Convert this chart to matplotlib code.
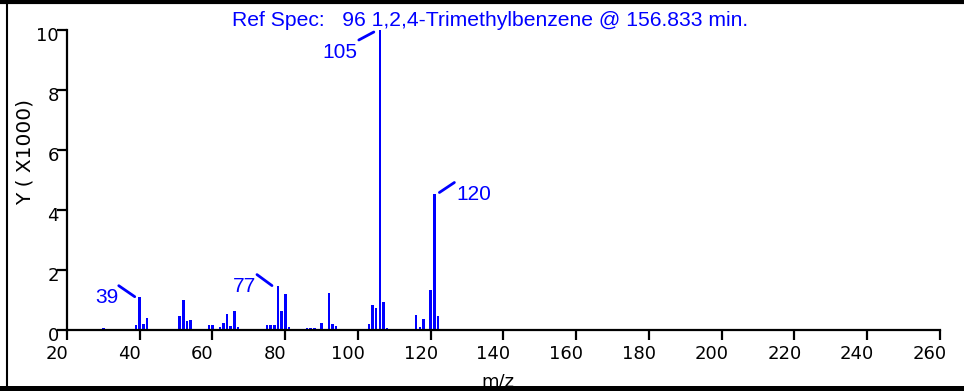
import matplotlib
matplotlib.use('Agg')
import matplotlib.pyplot as plt
from matplotlib.lines import Line2D
from matplotlib.transforms import offset_copy, ScaledTranslation

# ---------------- data ----------------
mz = [30, 33, 38, 39, 40, 41, 42, 44, 45, 46,
      51, 52, 53, 54, 55, 56, 57, 59, 60, 62, 63, 64, 65, 66, 67, 68,
      74, 75, 76, 77, 78, 79, 80, 81,
      85, 86, 87, 88, 90, 92, 93, 94, 95,
      99, 100, 102, 103, 104, 105, 106, 107, 108, 111,
      116, 117, 118, 119, 120, 121, 122, 123]
intensity = [70, 30, 50, 170, 1110, 200, 410, 40, 40, 30,
             460, 990, 290, 340, 40, 30, 30, 180, 180, 90, 230, 520, 120, 650, 90, 30,
             30, 170, 170, 170, 1480, 630, 1200, 90,
             30, 70, 80, 80, 230, 1240, 200, 120, 30,
             30, 30, 40, 200, 850, 750, 10000, 940, 80, 30,
             490, 110, 360, 40, 1330, 4550, 470, 50]

peak_mz = [40, 78, 106, 121]
peak_labels = ['39', '77', '105', '120']

xticks = [20, 40, 60, 80, 100, 120, 140, 160, 180, 200, 220, 240, 260]
yticks = [0, 2000, 4000, 6000, 8000, 10000]
ytick_labels = ['0', '2', '4', '6', '8', '10']

title = 'Ref Spec:   96 1,2,4-Trimethylbenzene @ 156.833 min.'
xlabel = 'm/z'
ylabel = 'Y ( X1000)'

# ---------------- styling / layout ----------------
BLUE = '#0000FF'
W, H = 964, 391
fig = plt.figure(figsize=(W / 100, H / 100), dpi=100)
ax = fig.add_axes([67 / W, 61 / H, (940 - 67) / W, 300 / H])

ax.bar(mz, intensity, width=0.7, color=BLUE, linewidth=0)
ax.set_xlim(20, 260)
ax.set_ylim(0, 10000)

for s in ['top', 'right']:
    ax.spines[s].set_visible(False)
for s in ['left', 'bottom']:
    ax.spines[s].set_linewidth(1.6)
    ax.spines[s].set_color('black')

ax.set_xticks(xticks)
ax.set_xticklabels([str(t) for t in xticks])
ax.set_yticks(yticks)
ax.set_yticklabels(ytick_labels)
ax.tick_params(axis='x', direction='out', length=7, width=1.6, pad=4,
               labelsize=13, colors='black')
ax.tick_params(axis='y', direction='out', length=7, width=1.6, pad=-1,
               labelsize=13, colors='black')

# shift tick labels like the reference
dx = ScaledTranslation(-10 / 100, 0, fig.dpi_scale_trans)
for lab in ax.get_xticklabels():
    lab.set_transform(lab.get_transform() + dx)
dy = ScaledTranslation(0, -4 / 100, fig.dpi_scale_trans)
for lab in ax.get_yticklabels():
    lab.set_transform(lab.get_transform() + dy)

# peak annotations (pixel offsets relative to bar top)
ann_layout = {
    '39': dict(line=((-21, 11), (-5, 0)), text=(-33, -1)),
    '77': dict(line=((-21, 11), (-6, 0)), text=(-33, -1)),
    '105': dict(line=((-21, -10), (-6, -2)), text=(-40, -23)),
    '120': dict(line=((5, 1), (20, 11)), text=(39, -1)),
}
lookup = dict(zip(mz, intensity))
for pm, lab in zip(peak_mz, peak_labels):
    y = lookup[pm]
    lay = ann_layout[lab]
    (sx, sy), (ex, ey) = lay['line']
    t_start = offset_copy(ax.transData, fig=fig, x=sx, y=sy, units='dots')
    t_end = offset_copy(ax.transData, fig=fig, x=ex, y=ey, units='dots')
    ax.annotate('', xy=(pm, y), xycoords=t_end, xytext=(pm, y), textcoords=t_start,
                arrowprops=dict(arrowstyle='-', color=BLUE, lw=2.0,
                                shrinkA=0, shrinkB=0), annotation_clip=False)
    tx, ty = lay['text']
    t_txt = offset_copy(ax.transData, fig=fig, x=tx, y=ty, units='dots')
    ax.text(pm, y, lab, transform=t_txt, ha='center', va='center',
            color=BLUE, fontsize=15, family=['Liberation Sans', 'DejaVu Sans'],
            clip_on=False)

# title
fig.text(490.5 / W, (H - 26) / H, title, ha='center', va='baseline',
         color=BLUE, fontsize=15.2, family=['Liberation Sans', 'DejaVu Sans'])

# axis labels
fig.text(498 / W, (H - 373) / H, xlabel, ha='center', va='top',
         fontsize=13, color='black')
fig.text(25 / W, (H - 152) / H, ylabel, ha='center', va='center',
         rotation=90, fontsize=14.5, color='black')

# frame around figure
fig.add_artist(Line2D([0, 1], [1 - 2 / H, 1 - 2 / H], transform=fig.transFigure,
                      color='black', lw=3.0, zorder=10))
fig.add_artist(Line2D([6.5 / W, 6.5 / W], [0, 1], transform=fig.transFigure,
                      color='black', lw=1.5, zorder=10))
fig.add_artist(Line2D([0, 1], [3.5 / H, 3.5 / H], transform=fig.transFigure,
                      color='black', lw=3.6, zorder=10))

fig.savefig('out.png', dpi=100, facecolor='white')
